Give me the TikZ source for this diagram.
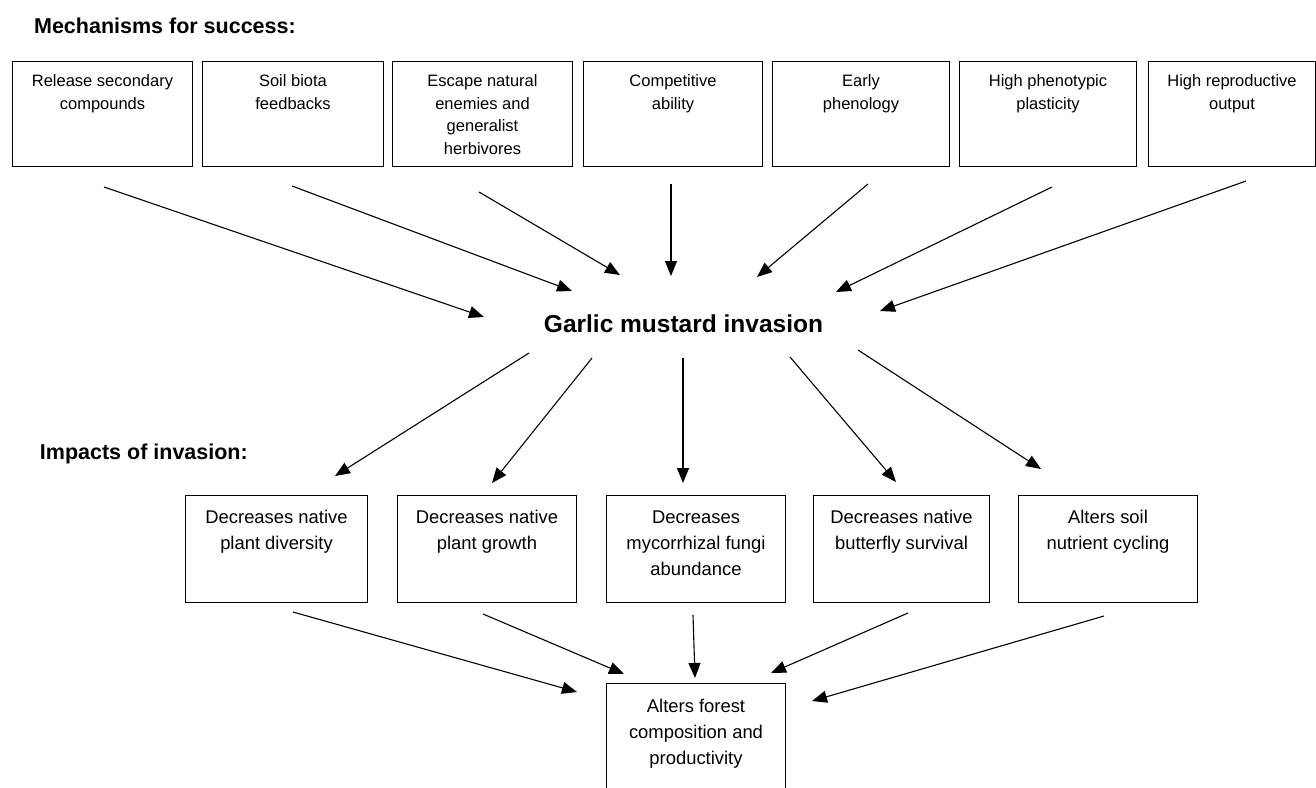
\documentclass[tikz,border=0pt]{standalone}
\usepackage{fontspec}
\setmainfont{Liberation Sans}
\usetikzlibrary{arrows.meta}
\newcommand\bxt[4]{\parbox[t][#2][t]{#1}{\centering\rule{0pt}{#3}#4\par}}
\begin{document}
\begin{tikzpicture}[x=1pt,y=-1pt,
  box/.style={draw, line width=1pt, inner sep=0pt, anchor=north west},
  topfont/.style={font=\fontsize{16.5}{22.7}\selectfont},
  botfont/.style={font=\fontsize{18.4}{26}\selectfont},
  heading/.style={font=\bfseries\fontsize{21.5}{26}\selectfont, inner sep=0pt},
  arr/.style={line width=1.1pt, -{Triangle[length=15pt,width=12pt]}}]
\useasboundingbox (0,0) rectangle (1316,787);
\clip (0,0) rectangle (1316,787);
% headings
\node[heading, anchor=base east] (h1) at (296,33) {Mechanisms for success:};
\node[heading, anchor=base east] (h2) at (248,459) {Impacts of invasion:};
% mechanism boxes
\node[box, topfont] (m1) at (12,61)   {\bxt{180pt}{105pt}{25pt}{Release secondary\\compounds}};
\node[box, topfont] (m2) at (202,61)  {\bxt{181pt}{105pt}{25pt}{Soil biota\\feedbacks}};
\node[box, topfont] (m3) at (392,61)  {\bxt{180pt}{105pt}{25pt}{Escape natural\\enemies and\\generalist\\herbivores}};
\node[box, topfont] (m4) at (583,61)  {\bxt{179pt}{105pt}{25pt}{Competitive\\ability}};
\node[box, topfont] (m5) at (772,61)  {\bxt{177pt}{105pt}{25pt}{Early\\phenology}};
\node[box, topfont] (m6) at (959,61)  {\bxt{177pt}{105pt}{25pt}{High phenotypic\\plasticity}};
\node[box, topfont] (m7) at (1148,61) {\bxt{167pt}{105pt}{25pt}{High reproductive\\output}};
% centre
\node[font=\bfseries\fontsize{24.5}{28}\selectfont, inner sep=0pt, anchor=base] (g) at (683.5,332) {Garlic mustard invasion};
% impact boxes
\node[box, botfont] (i1) at (185,495)  {\bxt{182pt}{107pt}{28pt}{Decreases native\\plant diversity}};
\node[box, botfont] (i2) at (397,495)  {\bxt{179pt}{107pt}{28pt}{Decreases native\\plant growth}};
\node[box, botfont] (i3) at (606,495)  {\bxt{179pt}{107pt}{28pt}{Decreases\\mycorrhizal fungi\\abundance}};
\node[box, botfont] (i4) at (813,495)  {\bxt{176pt}{107pt}{28pt}{Decreases native\\butterfly survival}};
\node[box, botfont] (i5) at (1018,495) {\bxt{179pt}{107pt}{28pt}{Alters soil\\nutrient cycling}};
\node[box, botfont] (f) at (606,683)   {\bxt{179pt}{120pt}{29pt}{Alters forest\\composition and\\productivity}};
% arrow end points
\coordinate (a1) at (104,187);  \coordinate (b1) at (484,317);
\coordinate (a2) at (292,186);  \coordinate (b2) at (572,291);
\coordinate (a3) at (479,192);  \coordinate (b3) at (620,275);
\coordinate (a4) at (671,184);  \coordinate (b4) at (671,276);
\coordinate (a5) at (868,184);  \coordinate (b5) at (757,277);
\coordinate (a6) at (1052,187); \coordinate (b6) at (836,292);
\coordinate (a7) at (1246,181); \coordinate (b7) at (880,311);
\coordinate (c1) at (529,353);  \coordinate (d1) at (335,476);
\coordinate (c2) at (592,358);  \coordinate (d2) at (492,483);
\coordinate (c3) at (683,358);  \coordinate (d3) at (683,483);
\coordinate (c4) at (790,357);  \coordinate (d4) at (896,482);
\coordinate (c5) at (858,350);  \coordinate (d5) at (1041,469);
\coordinate (e1) at (293,612);  \coordinate (k1) at (577,692);
\coordinate (e2) at (483,614);  \coordinate (k2) at (624,674);
\coordinate (e3) at (693,615);  \coordinate (k3) at (695,678);
\coordinate (e4) at (908,613);  \coordinate (k4) at (771,673);
\coordinate (e5) at (1104,616); \coordinate (k5) at (812,701);
\foreach \i in {1,...,7} {\draw[arr] (a\i) -- (b\i);}
\foreach \i in {1,...,5} {\draw[arr] (c\i) -- (d\i);}
\foreach \i in {1,...,5} {\draw[arr] (e\i) -- (k\i);}
\end{tikzpicture}
\end{document}
